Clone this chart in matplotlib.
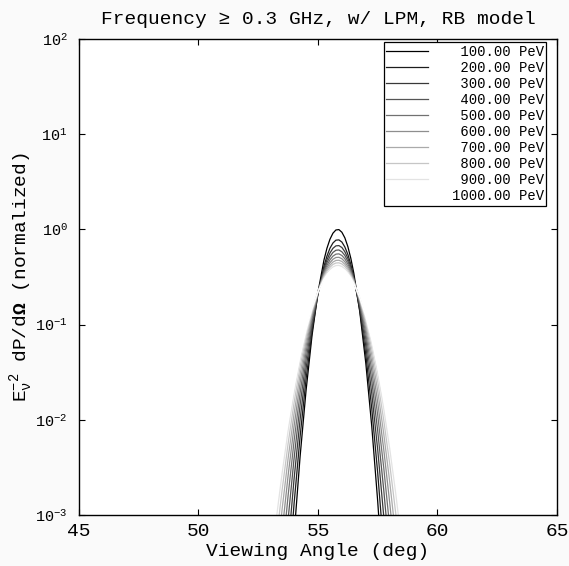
import matplotlib

matplotlib.use("Agg")

import matplotlib.pyplot as plt
import numpy as np

plt.rcParams["font.family"] = ["Liberation Mono", "DejaVu Sans Mono"]
plt.rcParams["mathtext.fontset"] = "custom"
plt.rcParams["mathtext.rm"] = "Liberation Mono"
plt.rcParams["mathtext.it"] = "Liberation Mono"
plt.rcParams["mathtext.bf"] = "Liberation Mono:bold"

# viewing angle grid (deg), denser around the peak
angles = [53.00, 53.25, 53.50, 53.75, 54.00, 54.25, 54.50, 54.75,
          55.00, 55.25, 55.375, 55.50, 55.625, 55.75, 55.875, 56.00,
          56.125, 56.25, 56.375, 56.50, 56.75,
          57.00, 57.25, 57.50, 57.75, 58.00, 58.25, 58.50, 58.75]

energies = [100, 200, 300, 400, 500, 600, 700, 800, 900, 1000]  # PeV

# log10 of E^-2 dP/dOmega (normalized)
log_power = [
    [-7.67, -6.38, -5.20, -4.14, -3.21, -2.39, -1.695, -1.117,
     -0.660, -0.322, -0.198, -0.104, -0.040, -0.006, -0.002, -0.030,
     -0.089, -0.181, -0.305, -0.461, -0.868,
     -1.404, -2.069, -2.861, -3.782, -4.83, -6.01, -7.31, -8.75],
    [-6.75, -5.63, -4.61, -3.69, -2.88, -2.18, -1.575, -1.075,
     -0.679, -0.387, -0.280, -0.198, -0.143, -0.113, -0.110, -0.133,
     -0.185, -0.263, -0.369, -0.503, -0.853,
     -1.313, -1.882, -2.562, -3.352, -4.25, -5.26, -6.38, -7.61],
    [-6.04, -5.05, -4.15, -3.34, -2.62, -2.00, -1.465, -1.023,
     -0.673, -0.414, -0.320, -0.248, -0.199, -0.173, -0.170, -0.190,
     -0.235, -0.304, -0.397, -0.514, -0.821,
     -1.223, -1.723, -2.318, -3.010, -3.80, -4.68, -5.66, -6.74],
    [-5.45, -4.57, -3.77, -3.044, -2.405, -1.847, -1.372, -0.978,
     -0.666, -0.435, -0.350, -0.286, -0.242, -0.219, -0.216, -0.235,
     -0.274, -0.335, -0.418, -0.522, -0.793,
     -1.150, -1.592, -2.120, -2.733, -3.43, -4.22, -5.08, -6.04],
    [-4.96, -4.16, -3.443, -2.795, -2.222, -1.721, -1.294, -0.940,
     -0.660, -0.453, -0.378, -0.320, -0.281, -0.260, -0.257, -0.274,
     -0.309, -0.363, -0.437, -0.529, -0.771,
     -1.090, -1.484, -1.954, -2.501, -3.124, -3.82, -4.60, -5.45],
    [-4.54, -3.82, -3.169, -2.585, -2.067, -1.615, -1.230, -0.910,
     -0.657, -0.470, -0.402, -0.350, -0.314, -0.295, -0.293, -0.308,
     -0.340, -0.389, -0.454, -0.538, -0.755,
     -1.041, -1.395, -1.818, -2.308, -2.868, -3.495, -4.19, -4.96],
    [-4.18, -3.528, -2.937, -2.406, -1.936, -1.525, -1.175, -0.884,
     -0.655, -0.485, -0.423, -0.376, -0.343, -0.326, -0.324, -0.337,
     -0.366, -0.410, -0.470, -0.545, -0.741,
     -0.999, -1.319, -1.701, -2.144, -2.649, -3.216, -3.845, -4.535],
    [-3.868, -3.274, -2.735, -2.250, -1.821, -1.446, -1.127, -0.862,
     -0.653, -0.498, -0.441, -0.398, -0.368, -0.353, -0.351, -0.363,
     -0.389, -0.429, -0.483, -0.551, -0.730,
     -0.964, -1.254, -1.601, -2.003, -2.462, -2.976, -3.547, -4.173],
    [-3.597, -3.053, -2.560, -2.116, -1.724, -1.381, -1.088, -0.846,
     -0.654, -0.512, -0.460, -0.421, -0.394, -0.380, -0.378, -0.389,
     -0.413, -0.449, -0.498, -0.560, -0.723,
     -0.936, -1.201, -1.516, -1.883, -2.301, -2.769, -3.289, -3.860],
    [-3.361, -2.861, -2.407, -1.999, -1.638, -1.323, -1.054, -0.831,
     -0.655, -0.524, -0.477, -0.440, -0.416, -0.402, -0.401, -0.411,
     -0.433, -0.466, -0.511, -0.568, -0.717,
     -0.912, -1.154, -1.443, -1.778, -2.161, -2.590, -3.065, -3.588],
]


def main():
    fig = plt.figure(figsize=(5.69, 5.66), dpi=100, facecolor="#fafafa")
    ax = fig.add_axes([0.1388, 0.0901, 0.8401, 0.8410])

    x = np.array(angles)
    for i, (energy, row) in enumerate(zip(energies, log_power)):
        shade = i / (len(energies) - 1)
        ax.semilogy(x, 10.0 ** np.array(row), color=str(shade), linewidth=0.9,
                    label=f"{energy:7.2f} PeV")

    ax.set_xlim(45, 65)
    ax.set_ylim(1e-3, 1e2)
    ax.set_xticks([45, 50, 55, 60, 65])
    ax.set_yticks([1e-3, 1e-2, 1e-1, 1e0, 1e1, 1e2])
    ax.yaxis.set_minor_locator(matplotlib.ticker.NullLocator())
    ax.tick_params(direction="in", top=True, right=True, length=4, width=0.8)
    ax.tick_params(axis="x", labelsize=14, pad=6)
    ax.tick_params(axis="y", labelsize=11, pad=8)
    for spine in ax.spines.values():
        spine.set_linewidth(1.0)

    ax.set_xlabel("Viewing Angle (deg)", fontsize=14, labelpad=2)
    ax.set_ylabel(r"E$_{\nu}^{-2}$ dP/d$\mathbf{\Omega}$ (normalized)", fontsize=14)
    ax.yaxis.set_label_coords(-0.092, 0.5)
    ax.set_title("Frequency \u2265 0.3 GHz, w/ LPM, RB model", fontsize=14, pad=11)

    leg = ax.legend(loc="upper right", bbox_to_anchor=(0.978, 0.994), borderaxespad=0,
                    fontsize=10, frameon=True, fancybox=False, framealpha=1,
                    edgecolor="black", borderpad=0.2, labelspacing=0.15,
                    handlelength=3.0, handletextpad=1.7)
    leg.get_frame().set_linewidth(0.9)

    fig.savefig("out.png", dpi=100, facecolor=fig.get_facecolor())
    plt.close(fig)


if __name__ == "__main__":
    main()
